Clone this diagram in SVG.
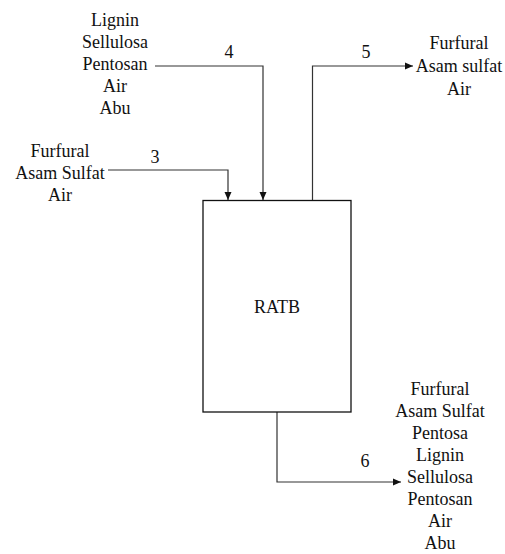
<svg xmlns="http://www.w3.org/2000/svg" width="505" height="554" viewBox="0 0 505 554">
  <style>
    text { font-family: 'Liberation Serif', 'Times New Roman', Times, 'DejaVu Serif', serif; font-size: 18px; fill: #111; }
    .c { text-anchor: middle; }
    .flow { fill: none; stroke: #333; stroke-width: 1.2; }
    .unit { fill: #fff; stroke: #111; stroke-width: 1.3; }
  </style>
  <defs>
    <marker id="arrow" viewBox="0 0 8 8" refX="8" refY="4" markerWidth="8" markerHeight="8" markerUnits="userSpaceOnUse" orient="auto">
      <path d="M0,0.5 L8,4 L0,7.5 Z" fill="#111"/>
    </marker>
  </defs>

  <rect width="505" height="554" fill="#fff"/>

  <!-- Process streams -->
  <g id="connectors" font-family="'Liberation Serif', 'Times New Roman', serif">
    <polyline id="stream-3" class="flow" points="108,170 228,170 228,200" marker-end="url(#arrow)"/>
    <polyline id="stream-4" class="flow" points="155,66 263,66 263,200" marker-end="url(#arrow)"/>
    <polyline id="stream-5" class="flow" points="312.5,200 312.5,66 413,66" marker-end="url(#arrow)"/>
    <polyline id="stream-6" class="flow" points="277,412 277,482 401,482" marker-end="url(#arrow)"/>
    <text class="c" x="155" y="163">3</text>
    <text class="c" x="229" y="58">4</text>
    <text class="c" x="366" y="58">5</text>
    <text class="c" x="365" y="467">6</text>
  </g>

  <!-- Reactor -->
  <g id="ratb">
    <rect class="unit" x="203" y="200.5" width="148" height="211.5"/>
    <text class="c" x="277" y="313">RATB</text>
  </g>

  <!-- Feed stream 4 composition -->
  <g id="feed-4">
    <text class="c" x="115" y="26">Lignin</text>
    <text class="c" x="115" y="48">Sellulosa</text>
    <text class="c" x="115" y="70">Pentosan</text>
    <text class="c" x="115" y="92">Air</text>
    <text class="c" x="115" y="114">Abu</text>
  </g>

  <!-- Feed stream 3 composition -->
  <g id="feed-3">
    <text class="c" x="60" y="157">Furfural</text>
    <text class="c" x="60" y="179">Asam Sulfat</text>
    <text class="c" x="60" y="201">Air</text>
  </g>

  <!-- Vapour product stream 5 -->
  <g id="product-5">
    <text class="c" x="459" y="49">Furfural</text>
    <text class="c" x="459" y="72">Asam sulfat</text>
    <text class="c" x="459" y="95">Air</text>
  </g>

  <!-- Bottom product stream 6 -->
  <g id="product-6">
    <text class="c" x="440" y="395">Furfural</text>
    <text class="c" x="440" y="417">Asam Sulfat</text>
    <text class="c" x="440" y="439">Pentosa</text>
    <text class="c" x="440" y="461">Lignin</text>
    <text class="c" x="440" y="483">Sellulosa</text>
    <text class="c" x="440" y="505">Pentosan</text>
    <text class="c" x="440" y="527">Air</text>
    <text class="c" x="440" y="549">Abu</text>
  </g>
</svg>
